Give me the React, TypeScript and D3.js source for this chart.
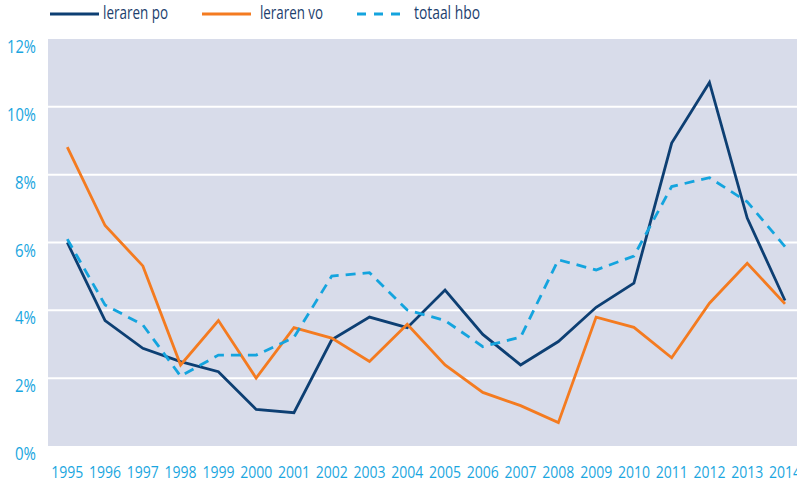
import React from "react";
import * as d3 from "d3";

const years = ["1995","1996","1997","1998","1999","2000","2001","2002","2003","2004","2005","2006","2007","2008","2009","2010","2011","2012","2013","2014"];
const lerarenPo = [6.0,3.7,2.88,2.49,2.19,1.08,0.98,3.13,3.8,3.49,4.6,3.29,2.39,3.08,4.09,4.8,8.93,10.72,6.72,4.29];
const lerarenVo = [8.81,6.5,5.31,2.39,3.7,2.0,3.49,3.18,2.49,3.59,2.39,1.58,1.19,0.69,3.8,3.5,2.6,4.21,5.39,4.19];
const totaalHbo = [6.1,4.16,3.57,2.06,2.68,2.68,3.2,5.01,5.11,4.01,3.7,2.93,3.21,5.49,5.19,5.6,7.65,7.91,7.2,5.88];
const yTicks = [0,2,4,6,8,10,12];
const gridTicks = [2,4,6,8,10];

const FONT = "'Open Sans', 'Liberation Sans', sans-serif";
const DARK = "#0d3f73";
const ORANGE = "#f47b20";
const LIGHT = "#14a4de";
const LABEL = "#1aa6e0";

export default function App() {
  const W = 797, H = 484;
  const plotLeft = 48, plotTop = 39, plotBottom = 446;
  const x = d3.scalePoint<string>().domain(years).range([67.3, 785]);
  const y = d3.scaleLinear().domain([0, 12]).range([plotBottom, plotTop]);
  const line = d3.line<number>().x((_, i) => x(years[i]) as number).y(d => y(d));

  const series = [
    { name: "lerarenPo", data: lerarenPo, color: DARK, dash: undefined },
    { name: "lerarenVo", data: lerarenVo, color: ORANGE, dash: undefined },
    { name: "totaalHbo", data: totaalHbo, color: LIGHT, dash: "10,7" },
  ];
  const legend = [
    { label: "leraren po", color: DARK, dash: undefined, x1: 50, x2: 99, tx: 103, w: 65 },
    { label: "leraren vo", color: ORANGE, dash: undefined, x1: 202, x2: 251, tx: 260, w: 63 },
    { label: "totaal hbo", color: LIGHT, dash: "9,8", x1: 357, x2: 407, tx: 414, w: 66 },
  ];

  return (
    <svg width={W} height={H} style={{ position: "absolute", left: 0, top: 0 }} fontFamily={FONT}>
      <rect x={plotLeft} y={plotTop} width={W - plotLeft + 10} height={plotBottom - plotTop} fill="#d8dcea" />
      {gridTicks.map(t => (
        <line key={t} x1={plotLeft} x2={W} y1={y(t)} y2={y(t)} stroke="#ffffff" strokeWidth={2} />
      ))}
      {yTicks.map(t => {
        const w = t >= 10 ? 29 : 21;
        return (
          <text key={t} x={36 - w} y={y(t) + 14} fontSize={19} fill={LABEL}
            textLength={w} lengthAdjust="spacingAndGlyphs">{t}%</text>
        );
      })}
      {years.map(yr => (
        <text key={yr} x={(x(yr) as number) - 16} y={478} fontSize={16} fill={LABEL}
          textLength={32} lengthAdjust="spacingAndGlyphs">{yr}</text>
      ))}
      {series.map(s => (
        <path key={s.name} d={line(s.data) || ""} fill="none" stroke={s.color} strokeWidth={2.8}
          strokeDasharray={s.dash} strokeLinejoin="miter" />
      ))}
      {legend.map(l => (
        <g key={l.label}>
          <line x1={l.x1} x2={l.x2} y1={14} y2={14} stroke={l.color} strokeWidth={3} strokeDasharray={l.dash} />
          <text x={l.tx} y={19} fontSize={19} fill="#1d3f6e" textLength={l.w} lengthAdjust="spacingAndGlyphs">{l.label}</text>
        </g>
      ))}
    </svg>
  );
}
